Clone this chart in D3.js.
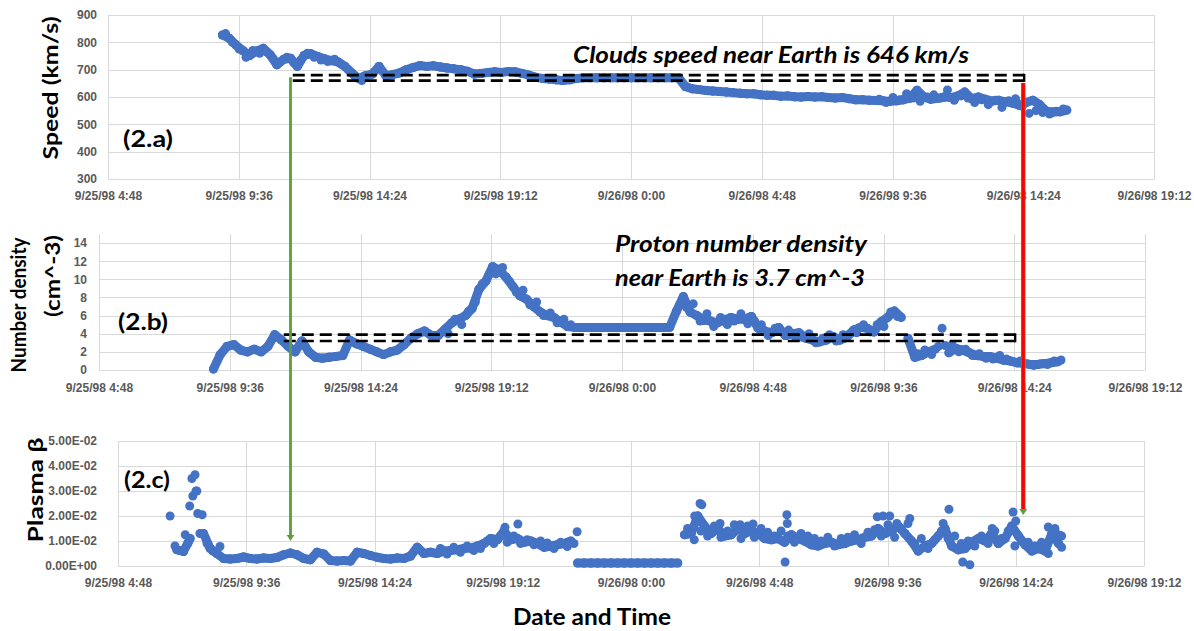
<!DOCTYPE html>
<html>
<head>
<meta charset="utf-8">
<script src="https://cdn.jsdelivr.net/npm/d3@7"></script>
<style>
  html, body { margin: 0; padding: 0; background: #fff; }
  svg { display: block; font-family: Lato, "Open Sans", sans-serif; }
</style>
</head>
<body>
<svg id="chart" width="1194" height="631"></svg>
<script>
// ---- data ----------------------------------------------------------------
const xTickLabels = ["9/25/98 4:48", "9/25/98 9:36", "9/25/98 14:24", "9/25/98 19:12",
  "9/26/98 0:00", "9/26/98 4:48", "9/26/98 9:36", "9/26/98 14:24", "9/26/98 19:12"];

const speedTicks = [300, 400, 500, 600, 700, 800, 900];
const densityTicks = [0, 2, 4, 6, 8, 10, 12, 14];
const betaTicks = [0, 0.01, 0.02, 0.03, 0.04, 0.05];

// main traces, one reading every 15 minutes
const sampleMinutes = 15;
const speedStart = "9/25/98 9:00";
const speedValues = [
  827, 815, 790, 770, 752, 768, 778, 755, 718, 738,
  742, 712, 752, 758, 748, 740, 733, 728, 712, 688,
  668, 678, 684, 712, 678, 682, 688, 700, 708, 715,
  712, 714, 710, 706, 703, 700, 694, 684, 686, 690,
  692, 690, 693, 692, 686, 680, 672, 668, 666, 663,
  660, 663, 668, 670, 670, 670, 670, 670, 670, 670,
  670, 670, 670, 670, 670, 670, 670, 670, 638, 630,
  627, 624, 622, 620, 618, 616, 614, 612, 612, 608,
  606, 606, 603, 604, 601, 600, 602, 600, 601, 598,
  596, 598, 594, 590, 590, 588, 587, 586, 584, 586,
  590, 596, 625, 600, 592, 595, 600, 598, 604, 618,
  594, 600, 592, 585, 588, 582, 578, 570, 580, 588,
  572, 548, 545, 546, 552
];

const densityStart = "9/25/98 9:00";
const densityValues = [
  0.1, 1.7, 2.6, 2.8, 2.2, 2.0, 2.3, 2.0, 2.6, 3.9,
  3.3, 2.6, 2.0, 3.2, 2.0, 1.4, 1.3, 1.4, 1.5, 1.6,
  3.3, 2.9, 2.6, 2.3, 2.0, 1.7, 2.0, 2.2, 2.8, 3.5,
  4.0, 4.3, 3.8, 3.8, 4.5, 5.2, 5.6, 6.0, 6.8, 8.9,
  9.8, 11.4, 11.0, 10.2, 9.2, 8.2, 7.8, 7.0, 6.4, 6.0,
  5.8, 5.3, 4.8, 4.7, 4.7, 4.7, 4.7, 4.7, 4.7, 4.7,
  4.7, 4.7, 4.7, 4.7, 4.7, 4.7, 4.7, 4.7, 6.5, 8.1,
  6.4, 6.0, 5.5, 5.4, 5.2, 5.5, 5.8, 5.6, 5.6, 5.9,
  4.6, 4.3, 4.1, 4.7, 3.8, 4.0, 4.1, 3.5, 3.3, 3.1,
  3.3, 3.7, 3.3, 3.6, 4.4, 4.7, 4.6, 4.2, 5.3, 5.8,
  6.5, 5.8, 3.5, 1.4, 1.6, 2.0, 2.3, 4.6, 1.9, 2.4,
  2.2, 1.9, 1.6, 1.5, 1.5, 1.3, 1.1, 1.0, 0.8, 0.7,
  0.6, 0.6, 0.7, 0.8, 0.9
];

const betaStart = "9/25/98 6:45";
const betaValues = [
  0.0200, 0.0065, 0.0058, 0.0110, 0.0300, 0.0130, 0.0070, 0.0050, 0.0030, 0.0028,
  0.0030, 0.0036, 0.0030, 0.0028, 0.0032, 0.0030, 0.0034, 0.0045, 0.0052, 0.0045,
  0.0030, 0.0025, 0.0055, 0.0048, 0.0022, 0.0020, 0.0022, 0.0020, 0.0055, 0.0050,
  0.0042, 0.0035, 0.0030, 0.0028, 0.0032, 0.0030, 0.0040, 0.0075, 0.0050, 0.0055,
  0.0050, 0.0060, 0.0062, 0.0065, 0.0070, 0.0072, 0.0080, 0.0090, 0.0110, 0.0105,
  0.0140, 0.0105, 0.0110, 0.0095, 0.0100, 0.0090, 0.0075, 0.0080, 0.0085, 0.0090,
  0.0100, 0.0012, 0.0012, 0.0012, 0.0012, 0.0012, 0.0012, 0.0012, 0.0012, 0.0012,
  0.0012, 0.0012, 0.0012, 0.0012, 0.0012, 0.0012, 0.0012, 0.0125, 0.0130, 0.0200,
  0.0160, 0.0130, 0.0150, 0.0120, 0.0125, 0.0150, 0.0130, 0.0140, 0.0130, 0.0110,
  0.0105, 0.0110, 0.0095, 0.0125, 0.0110, 0.0100, 0.0085, 0.0080, 0.0090, 0.0095,
  0.0085, 0.0090, 0.0100, 0.0105, 0.0115, 0.0120, 0.0150, 0.0130, 0.0140, 0.0160,
  0.0130, 0.0100, 0.0060, 0.0080, 0.0090, 0.0120, 0.0150, 0.0080, 0.0065, 0.0070,
  0.0095, 0.0110, 0.0100, 0.0130, 0.0090, 0.0110, 0.0160, 0.0120, 0.0085, 0.0060,
  0.0070, 0.0060, 0.0130, 0.0090
];

// interleaved readings (7 minutes after each main reading) where the trace is noisy
const speedSpread = [
  { start: "9/25/98 9:07", values: [832, 800, 775, 745, 770, 760, 765, 740, 728, 745,
    725, 735, 760, 745, 735, 730, 738, 720, 700, 676, 660] },
  { start: "9/26/98 9:07", values: [592, 580, 598, 590, 612, 596, 584, 600, 608, 596,
    626, 588, 604, 596, 580, 590, 572, 588, 562, 586, 594, 566, 540, 550, 543, 538, 548, 556] }
];
const densitySpread = [
  { start: "9/25/98 17:37", values: [4.0, 5.6, 5.0, 6.5, 7.5, 9.5, 10.5, 10.6, 11.3, 9.8,
    8.6, 8.8, 7.2, 7.5, 6.0, 6.3, 5.2, 5.6, 5.0] },
  { start: "9/26/98 2:07", values: [7.2, 6.9, 7.3, 5.4, 6.2, 4.8, 5.8, 5.0, 5.4, 6.2,
    5.1, 5.4, 5.0, 3.8, 4.6, 4.2, 4.4, 3.6, 3.6, 4.0,
    3.0, 3.5, 3.9, 3.2, 3.9, 4.0, 4.1, 5.0, 4.2, 5.0, 4.8, 6.4, 5.9] },
  { start: "9/26/98 10:52", values: [1.8, 2.2, 1.7, 2.6, 2.7, 2.8, 2.0, 2.3, 1.6, 1.8,
    1.3, 1.2, 1.6, 1.2, 0.9, 1.0, 0.7, 0.5, 0.7, 0.6, 1.0, 1.1] }
];
const betaSpread = [
  { start: "9/25/98 16:52", values: [0.0070, 0.0048, 0.0075, 0.0055, 0.0080, 0.0062, 0.0070,
    0.0100, 0.0090, 0.0120, 0.0095, 0.0120, 0.0090, 0.0105, 0.0085, 0.0100, 0.0092, 0.0070,
    0.0095, 0.0078, 0.0090] },
  { start: "9/26/98 2:07", values: [0.0150, 0.0105, 0.0140, 0.0120, 0.0160, 0.0115, 0.0140,
    0.0165, 0.0110, 0.0160, 0.0115, 0.0150, 0.0135, 0.0120, 0.0140, 0.0120, 0.0095, 0.0130,
    0.0120, 0.0110, 0.0100, 0.0115, 0.0080, 0.0110, 0.0115, 0.0125, 0.0090, 0.0135, 0.0145,
    0.0120, 0.0165, 0.0115, 0.0150, 0.0170, 0.0090, 0.0110, 0.0070, 0.0105, 0.0140, 0.0110,
    0.0120, 0.0090, 0.0100, 0.0080, 0.0120, 0.0090, 0.0140, 0.0110, 0.0140, 0.0080,
    0.0100, 0.0095, 0.0080, 0.0095, 0.0050, 0.0150, 0.0120] }
];

// isolated beta readings well off the trend
const betaExtraTimes = [
  "9/25/98 6:56", "9/25/98 7:07", "9/25/98 7:19", "9/25/98 7:25", "9/25/98 7:29",
  "9/25/98 7:34", "9/25/98 7:36", "9/25/98 7:41", "9/25/98 7:43", "9/25/98 7:47",
  "9/25/98 7:52", "9/25/98 7:57", "9/25/98 8:08", "9/25/98 8:21", "9/25/98 8:37",
  "9/25/98 19:17", "9/25/98 19:46", "9/25/98 21:59",
  "9/26/98 2:23", "9/26/98 2:35", "9/26/98 2:39", "9/26/98 3:20", "9/26/98 4:05",
  "9/26/98 4:34", "9/26/98 5:46", "9/26/98 5:50", "9/26/98 5:51", "9/26/98 9:13",
  "9/26/98 9:26", "9/26/98 9:41", "9/26/98 9:57", "9/26/98 10:26", "9/26/98 11:41",
  "9/26/98 11:54", "9/26/98 12:25", "9/26/98 12:41", "9/26/98 13:31", "9/26/98 14:18",
  "9/26/98 14:24", "9/26/98 15:37", "9/26/98 15:52", "9/26/98 16:03", "9/26/98 16:07"
];
const betaExtraValues = [
  0.0080, 0.0062, 0.0125, 0.0090, 0.0240,
  0.0350, 0.0280, 0.0365, 0.0300, 0.0210,
  0.0130, 0.0205, 0.0090, 0.0060, 0.0078,
  0.0155, 0.0168, 0.0137,
  0.0200, 0.0250, 0.0245, 0.0170, 0.0165,
  0.0168, 0.0016, 0.0205, 0.0170, 0.0197,
  0.0200, 0.0200, 0.0170, 0.0190, 0.0170,
  0.0227, 0.0016, 0.0005, 0.0150, 0.0216,
  0.0180, 0.0156, 0.0140, 0.0123, 0.0075
];

// reference bands drawn over the speed and density panels
const speedBand = [660, 680];
const densityBand = [3.2, 3.9];
const bandStart = "9/25/98 11:35";
const bandEnd = "9/26/98 14:26";
// departure / arrival markers
const departTime = "9/25/98 11:30";
const arriveTime = "9/26/98 14:24";

// ---- helpers ---------------------------------------------------------------
const parse = d3.timeParse("%m/%d/%y %H:%M");
const tickDates = xTickLabels.map(parse);
const labelOf = new Map(tickDates.map((d, i) => [+d, xTickLabels[i]]));
const sampled = (start, values) => {
  const t0 = parse(start);
  return values.map((v, i) => ({ t: d3.timeMinute.offset(t0, i * sampleMinutes), v }));
};
const spreadPoints = list => list.flatMap(s => sampled(s.start, s.values));
const expFmt = v => {
  if (v === 0) return "0.00E+00";
  const [m, e] = v.toExponential(2).split("e");
  const n = +e;
  return m + "E" + (n < 0 ? "-" : "+") + String(Math.abs(n)).padStart(2, "0");
};

const svg = d3.select("#chart");
const BLUE = "#4472C4", GRID = "#d9d9d9", TICK = "#595959";
const R = 4.5;
const JOIN_PX = 20;   // neighbouring readings closer than this merge into one trace

const panels = [
  { data: sampled(speedStart, speedValues), extra: spreadPoints(speedSpread),
    left: 108, right: 1154, y0: 179, y1: 15, domain: [300, 900], ticks: speedTicks,
    fmt: d3.format("d"), ypad: 11, xpad: 12 },
  { data: sampled(densityStart, densityValues), extra: spreadPoints(densitySpread),
    left: 99, right: 1145, y0: 370, y1: 234, domain: [0, 15], ticks: densityTicks,
    fmt: d3.format("d"), ypad: 12, xpad: 13 },
  { data: sampled(betaStart, betaValues),
    extra: spreadPoints(betaSpread).concat(
      betaExtraTimes.map((t, i) => ({ t: parse(t), v: betaExtraValues[i] }))),
    left: 118, right: 1144, y0: 566, y1: 441, domain: [0, 0.05], ticks: betaTicks,
    fmt: expFmt, ypad: 21, xpad: 12 }
];

panels.forEach(p => {
  p.x = d3.scaleTime().domain([tickDates[0], tickDates[tickDates.length - 1]]).range([p.left, p.right]);
  p.y = d3.scaleLinear().domain(p.domain).range([p.y0, p.y1]);
  const g = svg.append("g");

  // grid
  g.append("g").selectAll("line").data(p.ticks).join("line")
    .attr("x1", p.left).attr("x2", p.right)
    .attr("y1", d => Math.round(p.y(d)) + 0.5).attr("y2", d => Math.round(p.y(d)) + 0.5)
    .attr("stroke", GRID).attr("stroke-width", 1);
  g.append("g").selectAll("line").data(tickDates).join("line")
    .attr("x1", d => Math.round(p.x(d)) + 0.5).attr("x2", d => Math.round(p.x(d)) + 0.5)
    .attr("y1", p.y1).attr("y2", p.y0)
    .attr("stroke", GRID).attr("stroke-width", 1);

  // axes
  const xa = g.append("g").attr("transform", `translate(0,${p.y0})`)
    .call(d3.axisBottom(p.x).tickValues(tickDates).tickFormat(d => labelOf.get(+d))
      .tickSize(0).tickPadding(p.xpad));
  xa.select(".domain").attr("stroke", GRID);
  xa.selectAll("text").attr("fill", TICK).attr("font-size", 12).attr("font-weight", 700);

  const ya = g.append("g").attr("transform", `translate(${p.left},0)`)
    .call(d3.axisLeft(p.y).tickValues(p.ticks).tickFormat(p.fmt).tickSize(0).tickPadding(p.ypad));
  ya.select(".domain").remove();
  ya.selectAll("text").attr("fill", TICK).attr("font-size", 12).attr("font-weight", 700);

  // dense readings: neighbouring markers overlap into a continuous trace
  const links = d3.pairs(p.data)
    .filter(([a, b]) => Math.abs(p.y(a.v) - p.y(b.v)) <= JOIN_PX);
  g.append("g").selectAll("line").data(links).join("line")
    .attr("x1", ([a]) => p.x(a.t)).attr("y1", ([a]) => p.y(a.v))
    .attr("x2", ([, b]) => p.x(b.t)).attr("y2", ([, b]) => p.y(b.v))
    .attr("stroke", BLUE).attr("stroke-width", 2 * R).attr("stroke-linecap", "round");

  g.append("g").selectAll("circle").data(p.data.concat(p.extra)).join("circle")
    .attr("cx", d => p.x(d.t)).attr("cy", d => p.y(d.v)).attr("r", R)
    .attr("fill", BLUE);
});

// ---- reference bands ---------------------------------------------------------
const overlay = svg.append("g");
function band(p, vals) {
  const xa = p.x(parse(bandStart)), xb = p.x(parse(bandEnd));
  vals.forEach(v => {
    overlay.append("line")
      .attr("x1", xa).attr("x2", xb).attr("y1", p.y(v)).attr("y2", p.y(v))
      .attr("stroke", "#000").attr("stroke-width", 2.6).attr("stroke-dasharray", "12,6");
  });
  overlay.append("line")
    .attr("x1", xb).attr("x2", xb)
    .attr("y1", p.y(vals[1]) - 1.3).attr("y2", p.y(vals[0]) + 1.3)
    .attr("stroke", "#000").attr("stroke-width", 2.4);
}
band(panels[0], speedBand);
band(panels[1], densityBand);

// ---- departure / arrival arrows ---------------------------------------------
const [pa, , pc] = panels;
const gx = pa.x(parse(departTime));
const rx = pa.x(parse(arriveTime));
const GREEN = "#5E9E3A", RED = "#FF0000";

const gTop = pa.y(672), gTip = pc.y(0.010);
overlay.append("line").attr("x1", gx).attr("x2", gx).attr("y1", gTop).attr("y2", gTip - 5)
  .attr("stroke", GREEN).attr("stroke-width", 2.8);
overlay.append("path")
  .attr("d", `M${gx - 3.8},${gTip - 6} L${gx + 3.8},${gTip - 6} L${gx},${gTip} Z`)
  .attr("fill", GREEN);

const rTop = pa.y(651), rTip = pc.y(0.0204);
overlay.append("line").attr("x1", rx).attr("x2", rx).attr("y1", rTop).attr("y2", rTip - 5)
  .attr("stroke", GREEN).attr("stroke-width", 4.6);
overlay.append("line").attr("x1", rx).attr("x2", rx).attr("y1", rTop).attr("y2", rTip - 5)
  .attr("stroke", RED).attr("stroke-width", 3.2);
overlay.append("path")
  .attr("d", `M${rx - 4},${rTip - 6} L${rx + 4},${rTip - 6} L${rx},${rTip} Z`)
  .attr("fill", GREEN);

// ---- text --------------------------------------------------------------------
function label(txt, x, y, len, size, opts = {}) {
  const t = svg.append("text").attr("x", x).attr("y", y).text(txt)
    .attr("font-size", size).attr("font-weight", 700).attr("fill", "#000")
    .attr("textLength", len).attr("lengthAdjust", "spacingAndGlyphs");
  if (opts.italic) t.attr("font-style", "italic");
  if (opts.rotate) t.attr("transform", `rotate(-90,${x},${y})`).attr("text-anchor", "middle");
  return t;
}
// annotations
label("Clouds speed near Earth is 646 km/s", 573, 63, 396, 22, { italic: true });
label("Proton number density", 615, 252, 252, 22, { italic: true });
label("near Earth is 3.7 cm^-3", 615, 286, 250, 22, { italic: true });
// panel tags
label("(2.a)", 123, 147, 50, 22);
label("(2.b)", 118, 330, 50, 22);
label("(2.c)", 124, 488, 46, 22);
// axis titles
label("Speed (km/s)", 58, 88, 143, 21, { rotate: true });
label("Number density", 26, 305, 135, 20, { rotate: true });
label("(cm^-3)", 60, 276, 82, 20, { rotate: true });
label("Plasma  \u03B2", 43, 490, 105, 21, { rotate: true });
label("Date and Time", 513, 625, 158, 22);
</script>
</body>
</html>
